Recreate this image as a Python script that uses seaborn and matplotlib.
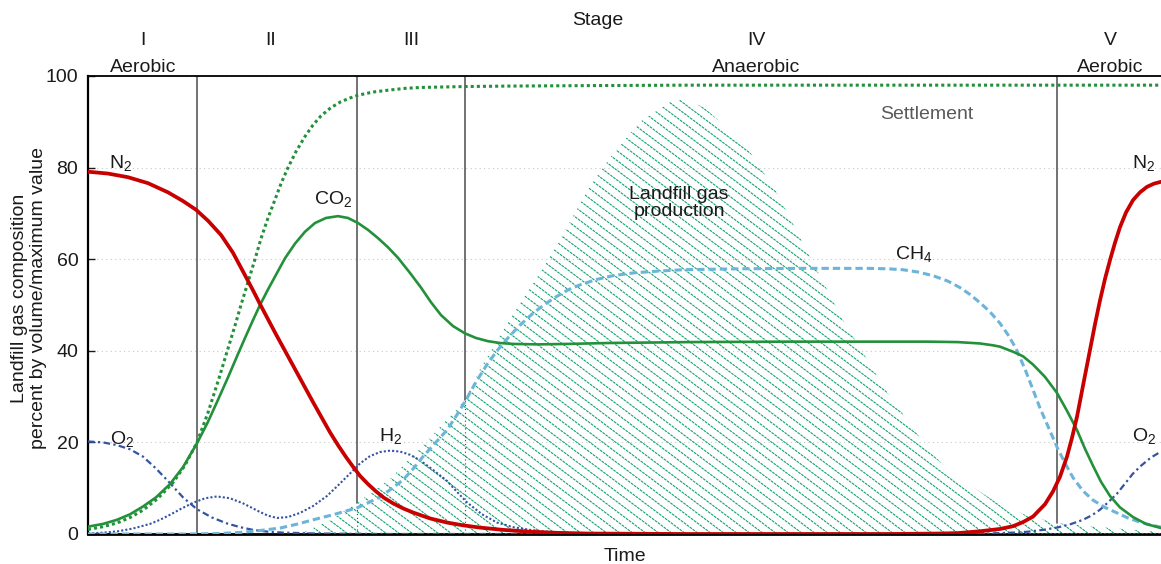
import numpy as np
import matplotlib
matplotlib.use("Agg")
import matplotlib.pyplot as plt
import seaborn as sns
from matplotlib.collections import LineCollection
from matplotlib.patches import PathPatch

# ---------------------------------------------------------------- data
# time axis is arbitrary (no ticks); composition in percent
n2_t = [0, 20, 40, 60, 80, 95, 108, 120, 133, 145, 157, 165, 172, 187, 197,
        207, 216, 225, 234, 242, 250, 258, 265, 272, 280, 288, 296, 305, 315,
        325, 342, 359, 375, 392, 415, 442, 470, 500, 600, 800, 850, 870, 892,
        912, 925, 935, 945, 957, 965, 972, 979, 984, 989, 996, 1002, 1007,
        1012, 1017, 1022, 1027, 1032, 1038, 1045, 1052, 1059, 1066, 1073]
n2_v = [79.1, 78.7, 77.9, 76.6, 74.6, 72.7, 70.8, 68.4, 65.3, 61.4, 56.5, 53.2,
        50.2, 44, 40, 36, 32.4, 28.8, 25.3, 22.2, 19.4, 16.8, 14.7, 12.7, 10.9,
        9.3, 7.9, 6.7, 5.6, 4.7, 3.4, 2.5, 1.9, 1.4, 0.9, 0.5, 0.25, 0.1, 0,
        0, 0.1, 0.2, 0.6, 1.1, 1.7, 2.6, 3.8, 6.5, 9.3, 12.5, 16.9, 21, 25.6,
        33.5, 40.2, 45.8, 51, 55.7, 59.8, 63.6, 67, 70.2, 72.9, 74.6, 75.8,
        76.5, 76.9]

co2_t = [0, 15, 29, 42, 55, 68, 82, 95, 109, 120, 130, 140, 150, 157, 165,
         172, 180, 187, 197, 207, 217, 227, 238, 250, 260, 270, 280, 290, 300,
         310, 322, 333, 343, 353, 365, 377, 388, 400, 412, 425, 450, 480, 520,
         600, 700, 800, 840, 870, 892, 905, 912, 925, 935, 945, 957, 969, 979,
         989, 997, 1005, 1013, 1022, 1032, 1045, 1058, 1073]
co2_v = [1.6, 2.2, 3.1, 4.3, 6, 8, 10.9, 14.6, 19.8, 24.5, 29.3, 34.2, 39.3,
         42.8, 46.7, 50, 53.4, 56.2, 60.2, 63.4, 66, 67.9, 69, 69.4, 69, 67.9,
         66.4, 64.6, 62.6, 60.3, 57, 53.8, 50.6, 47.8, 45.4, 43.8, 42.8, 42.1,
         41.7, 41.5, 41.4, 41.5, 41.7, 41.9, 42, 42, 42, 41.9, 41.6, 41.2,
         40.9, 39.8, 38.8, 37, 34.3, 30.8, 26.9, 22.7, 18.6, 14.9, 11.4, 8.3,
         5.8, 3.7, 2.2, 1.3]

settle_t = [0, 15, 29, 42, 55, 70, 85, 97, 109, 120, 131, 140, 147, 153, 160,
            167, 173, 180, 187, 193, 200, 208, 217, 225, 233, 243, 253, 262,
            270, 285, 300, 317, 333, 355, 377, 420, 500, 600, 1073]
settle_v = [1.0, 1.6, 2.4, 3.6, 5.2, 7.8, 11.2, 15, 20, 26.5, 34, 40.5, 45.5,
            50, 55, 60, 64.5, 69, 73, 76.5, 80, 83.5, 86.8, 89.3, 91.3, 93.1,
            94.4, 95.2, 95.8, 96.5, 96.9, 97.3, 97.5, 97.6, 97.7, 97.8, 97.9,
            98, 98]

ch4_t = [0, 100, 130, 150, 170, 192, 210, 225, 245, 269, 280, 292, 303, 315,
         325, 335, 347, 359, 368, 377, 388, 399, 409, 419, 432, 445, 457, 469,
         480, 492, 509, 525, 545, 570, 595, 650, 712, 780, 800, 815, 830, 845,
         860, 872, 882, 892, 902, 912, 920, 928, 937, 945, 952, 959, 965, 970,
         977, 985, 995, 1005, 1017, 1029, 1040, 1052, 1062, 1073]
ch4_v = [0, 0, 0.1, 0.3, 0.7, 1.3, 2.2, 3.1, 4.2, 5.7, 6.8, 8.1, 9.8, 11.8,
         14.2, 16.9, 19.8, 22.7, 25.7, 28.9, 33.2, 37, 40, 42.6, 45.6, 48.2,
         50.2, 51.9, 53.3, 54.4, 55.6, 56.4, 57, 57.4, 57.7, 57.9, 58, 58,
         57.9, 57.7, 57.2, 56.4, 55.2, 53.8, 52.3, 50.5, 48.5, 46, 43.5, 40.5,
         36, 31.5, 27.5, 24, 21, 18.5, 15.5, 12.3, 9.4, 7.4, 5.8, 4.6, 3.5,
         2.6, 2, 1.5]

o2_t = [0, 15, 29, 42, 55, 68, 82, 95, 109, 124, 139, 152, 165, 180, 195, 230,
        300, 600, 900, 925, 940, 955, 969, 982, 995, 1004, 1012, 1020, 1029,
        1037, 1045, 1053, 1063, 1073]
o2_v = [20.2, 20, 19.4, 18.5, 16.9, 14.3, 11.1, 8, 5.4, 3.6, 2.3, 1.5, 0.9,
        0.5, 0.3, 0.1, 0, 0, 0.1, 0.3, 0.5, 0.9, 1.4, 2.1, 3.1, 4.1, 5.3, 6.9,
        8.8, 11, 13.2, 14.9, 16.7, 18]

h2_t = [0, 15, 30, 45, 62, 72, 82, 93, 105, 117, 129, 142, 155, 164, 172, 180,
        189, 200, 212, 225, 239, 250, 262, 272, 282, 292, 302, 312, 322, 332,
        345, 359, 369, 379, 394, 409, 425, 442, 460, 475, 500, 520, 1073]
h2_v = [0.1, 0.3, 0.6, 1.2, 2.2, 3.1, 4.2, 5.5, 6.8, 7.8, 8.2, 7.8, 6.7, 5.7,
        4.8, 4, 3.5, 3.7, 4.6, 6.1, 8.3, 10.6, 13.2, 15.4, 17, 17.9, 18.2, 18,
        17.3, 16.1, 14, 11.6, 9.2, 6.9, 4.3, 2.5, 1.5, 0.9, 0.5, 0.3, 0.1, 0,
        0]

# landfill gas production (relative to maximum)
prod_t = [212, 242, 269, 302, 342, 377, 392, 425, 455, 479, 502, 525, 552, 582,
          597, 617, 642, 662, 689, 722, 755, 799, 842, 865, 905, 939, 969,
          1012, 1052, 1073]
prod_v = [0, 3, 6.8, 12, 21, 29.3, 36, 48, 58, 67, 76, 83, 90, 94.3, 95, 93,
          88, 83.4, 74.5, 60.5, 46.7, 31, 18, 13, 7.4, 4, 2.4, 1.5, 0.8, 0.5]

stage_bounds = [0, 109, 269, 377, 969, 1073]
stage_names = ["I", "II", "III", "IV", "V"]
stage_regime = ["Aerobic", "", "", "Anaerobic", "Aerobic"]

# ---------------------------------------------------------------- style
sns.set_theme(style="white")
plt.rcParams["font.family"] = ["Liberation Sans", "DejaVu Sans"]
plt.rcParams["mathtext.fontset"] = "custom"
plt.rcParams["mathtext.rm"] = "Liberation Sans"
plt.rcParams["mathtext.it"] = "Liberation Sans:italic"
plt.rcParams["mathtext.bf"] = "Liberation Sans:bold"

TXT = "#1a1a1a"
FS = 14
RED = "#c80000"
GREEN = "#22913a"
LBLUE = "#6cb4d9"
DBLUE = "#3553a3"
HATCH = "#12a373"

W_PX, H_PX = 1161, 564
fig = plt.figure(figsize=(W_PX / 100, H_PX / 100), dpi=100)
ax = fig.add_axes([88 / W_PX, 30 / H_PX, 1073 / W_PX, 458 / H_PX])
ax.set_xlim(0, 1073)
ax.set_ylim(0, 100)

# ---------------------------------------------------------------- hatched production area
poly = ax.fill_between(prod_t, prod_v, 0, facecolor="none", edgecolor="none",
                       linewidth=0)
clip = PathPatch(poly.get_paths()[0], transform=ax.transData,
                 facecolor="none", edgecolor="none")
ax.add_patch(clip)
aw, ah = 1073.0, 458.0
slope = 0.75
spacing = 13.0
span = ah / slope
starts = np.arange(-span, aw + spacing, spacing)
segs = [[(s / aw, 1.0), ((s + span) / aw, 0.0)] for s in starts]
lc = LineCollection(segs, transform=ax.transAxes, colors=HATCH,
                    linewidths=0.8, linestyles=[(0, (2.5, 0.8))], zorder=1)
ax.add_collection(lc, autolim=False)
lc.set_clip_path(clip)

# ---------------------------------------------------------------- stage boundaries
for b in stage_bounds[1:-1]:
    top = float(np.interp(b, prod_t, prod_v, left=0, right=0))
    ax.plot([b, b], [top, 100], color="#5a5a5a", lw=1.2, zorder=2)
    if top > 0.5:
        ax.plot([b, b], [0, top], color="#444444", lw=0.8,
                linestyle=(0, (1, 2.5)), zorder=2)

# ---------------------------------------------------------------- gas curves
common = dict(ax=ax, estimator=None, errorbar=None, sort=False, legend=False)
sns.lineplot(x=settle_t, y=settle_v, color=GREEN, linewidth=2.2,
             linestyle=(0, (1, 1)), zorder=4, **common)
sns.lineplot(x=h2_t, y=h2_v, color=DBLUE, linewidth=1.5,
             linestyle=(0, (1, 1)), zorder=4, **common)
sns.lineplot(x=o2_t, y=o2_v, color=DBLUE, linewidth=1.6,
             linestyle=(0, (3, 1.5, 1, 1.5)), zorder=4, **common)
sns.lineplot(x=ch4_t, y=ch4_v, color=LBLUE, linewidth=2.2,
             linestyle=(0, (2.4, 1.3)), zorder=5, **common)
sns.lineplot(x=co2_t, y=co2_v, color=GREEN, linewidth=1.9, zorder=6, **common)
sns.lineplot(x=n2_t, y=n2_v, color=RED, linewidth=2.7, zorder=7, **common)
for line in ax.get_lines():
    line.set_solid_joinstyle("round")
    line.set_dash_joinstyle("round")

# ---------------------------------------------------------------- axes styling
ax.set_yticks([0, 20, 40, 60, 80, 100])
ax.set_xticks([])
ax.tick_params(axis="y", direction="in", length=5, width=1, labelsize=FS,
               labelcolor=TXT, color=TXT, pad=7, left=True)
ax.yaxis.grid(True, linestyle=(0, (1, 3)), color="#c8c8c8", linewidth=0.8)
ax.xaxis.grid(False)
ax.set_axisbelow(True)
for side in ("left", "bottom", "top"):
    ax.spines[side].set_visible(True)
    ax.spines[side].set_color("black")
ax.spines["left"].set_linewidth(1.6)
ax.spines["bottom"].set_linewidth(2.0)
ax.spines["top"].set_linewidth(1.3)
ax.spines["right"].set_visible(False)

ax.set_xlabel("Time", fontsize=FS, color=TXT, labelpad=10)
ax.set_ylabel("Landfill gas composition\npercent by volume/maximum value",
              fontsize=FS, color=TXT, linespacing=1.1)
ax.yaxis.label.set_va("center")
ax.yaxis.set_label_coords(-0.055, 0.515)

# ---------------------------------------------------------------- stage header
header_x = [55, 183, 323, 668, 1022]
ax.text(0.475, 1.122, "Stage", transform=ax.transAxes, ha="center",
        va="center", fontsize=FS, color=TXT)
for i, name in enumerate(stage_names):
    ax.text(header_x[i], 1.078, name, transform=ax.get_xaxis_transform(),
            ha="center", va="center", fontsize=FS, color=TXT)
    if stage_regime[i]:
        ax.text(header_x[i], 1.019, stage_regime[i],
                transform=ax.get_xaxis_transform(),
                ha="center", va="center", fontsize=FS, color=TXT)

# ---------------------------------------------------------------- curve labels
lab = dict(fontsize=FS, color=TXT, ha="center", va="baseline", zorder=8)
ax.text(33, 80, r"$\mathrm{N_2}$", **lab)
ax.text(245, 72, r"$\mathrm{CO_2}$", **lab)
ax.text(34, 19.7, r"$\mathrm{O_2}$", **lab)
ax.text(303, 20.4, r"$\mathrm{H_2}$", **lab)
ax.text(826, 60, r"$\mathrm{CH_4}$", **lab)
ax.text(1056, 80, r"$\mathrm{N_2}$", **lab)
ax.text(1056, 20.2, r"$\mathrm{O_2}$", **lab)
ax.text(839, 91.7, "Settlement", fontsize=FS, color="#5a5a5a", ha="center",
        va="center")
ax.text(591, 72.3, "Landfill gas\nproduction", fontsize=FS, color=TXT,
        ha="center", va="center", linespacing=1.05, zorder=8)

fig.savefig("out.png", dpi=100)
